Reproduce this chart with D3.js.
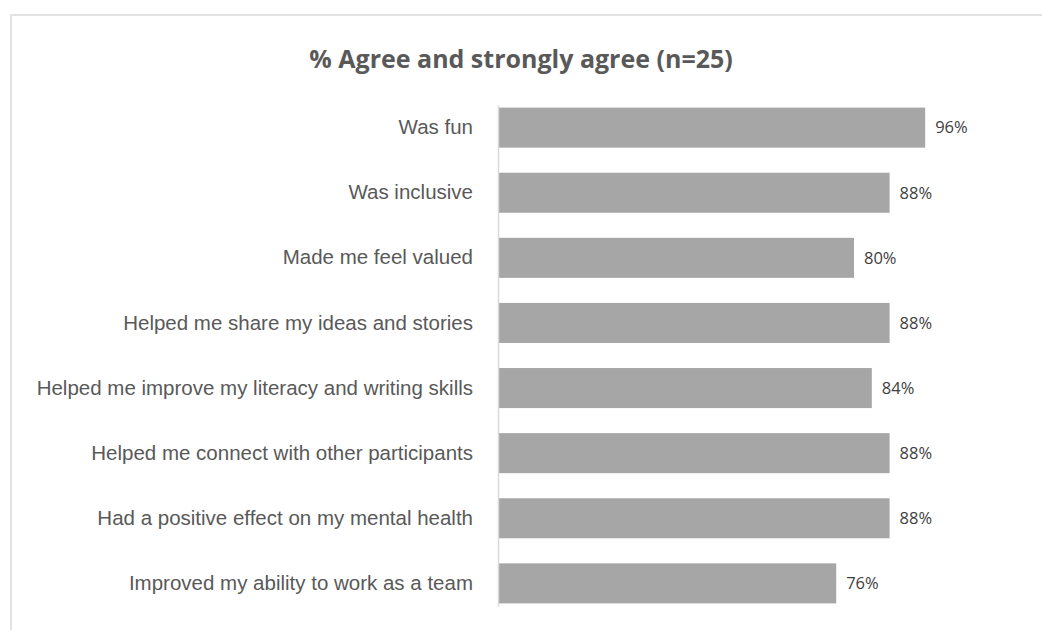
<!DOCTYPE html>
<html>
<head>
<meta charset="utf-8">
<script src="https://cdn.jsdelivr.net/npm/d3@7"></script>
<style>
  body { margin: 0; background: #fff; }
  svg { display: block; }
</style>
</head>
<body>
<div id="chart"></div>
<script>
"use strict";

// chart data
var categories = [
  "Was fun",
  "Was inclusive",
  "Made me feel valued",
  "Helped me share my ideas and stories",
  "Helped me improve my literacy and writing skills",
  "Helped me connect with other participants",
  "Had a positive effect on my mental health",
  "Improved my ability to work as a team"
];
var values = [96, 88, 80, 88, 84, 88, 88, 76];
var title = "% Agree and strongly agree (n=25)";

var width = 1042,
  height = 630;

var svg = d3
  .select("#chart")
  .append("svg")
  .attr("width", width)
  .attr("height", height);

// light frame round the chart (top and left edges show)
svg
  .append("path")
  .attr("d", "M11,630 L11,15 L1042,15")
  .attr("fill", "none")
  .attr("stroke", "#e2e2e2")
  .attr("stroke-width", 2);

// title
svg
  .append("text")
  .attr("x", 521)
  .attr("y", 68)
  .attr("text-anchor", "middle")
  .style("font-family", "'Open Sans', sans-serif")
  .style("font-weight", 700)
  .style("font-size", "25px")
  .style("fill", "#595959")
  .text(title);

// scales
var x = d3.scaleLinear().domain([0, 100]).range([498, 943]);

var y = d3
  .scaleBand()
  .domain(categories)
  .range([105, 606])
  .paddingInner(0.385)
  .paddingOuter(0.04);

// bars
svg
  .selectAll("rect.bar")
  .data(values)
  .enter()
  .append("rect")
  .attr("class", "bar")
  .attr("x", x(0))
  .attr("y", function(d, i) {
    return y(categories[i]);
  })
  .attr("width", function(d) {
    return x(d) - x(0);
  })
  .attr("height", y.bandwidth())
  .attr("fill", "#a6a6a6");

// category axis
var yAxis = d3.axisLeft(y).tickSize(0).tickPadding(25);
var gy = svg
  .append("g")
  .attr("transform", "translate(" + x(0) + ",0)")
  .call(yAxis);
gy.select(".domain").attr("stroke", "#d9d9d9").attr("stroke-width", 1.5);
gy
  .selectAll("text")
  .style("font-family", "'Liberation Sans', Arial, sans-serif")
  .style("font-size", "20.5px")
  .style("fill", "#595959");

// value labels
svg
  .selectAll("text.val")
  .data(values)
  .enter()
  .append("text")
  .attr("class", "val")
  .attr("x", function(d) {
    return x(d) + 10;
  })
  .attr("y", function(d, i) {
    return y(categories[i]) + y.bandwidth() / 2;
  })
  .attr("dy", "0.35em")
  .style("font-family", "'Open Sans', sans-serif")
  .style("font-size", "16.5px")
  .style("fill", "#404040")
  .text(function(d) {
    return d + "%";
  });
</script>
</body>
</html>
